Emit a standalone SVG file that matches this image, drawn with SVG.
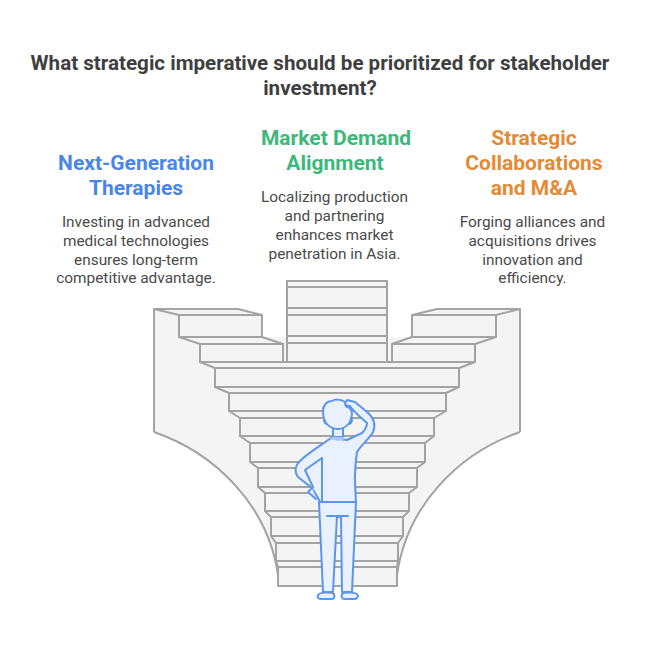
<svg xmlns="http://www.w3.org/2000/svg" width="650" height="651" viewBox="0 0 650 651">
<style>
text{font-family:Roboto,"Liberation Sans",sans-serif;text-anchor:middle}
.t{font-size:20.6px;font-weight:700;fill:#3f3f3f}
.h{font-size:21px;font-weight:700}
.b{font-size:15.4px;fill:#4a4a4a}
.s{fill:#f4f4f4;stroke:#a3a3a3;stroke-width:2;stroke-linejoin:round}
.p{fill:#e9f1fe;stroke:#5b95ec;stroke-width:2;stroke-linejoin:round;stroke-linecap:round}
</style>
<rect width="650" height="651" fill="#fff"/>
<text class="t" x="320" y="70">What strategic imperative should be prioritized for stakeholder</text>
<text class="t" x="320" y="95">investment?</text>
<g id="node-therapies">
<text class="h" x="136" y="170" fill="#4a86e8">Next-Generation</text>
<text class="h" x="136" y="195" fill="#4a86e8">Therapies</text>
<text class="b" x="136" y="227">Investing in advanced</text>
<text class="b" x="136" y="246">medical technologies</text>
<text class="b" x="136" y="265">ensures long-term</text>
<text class="b" x="136" y="283">competitive advantage.</text>
</g>
<g id="node-market">
<text class="h" x="336" y="145" fill="#3cb87a">Market Demand</text>
<text class="h" x="335" y="170" fill="#3cb87a">Alignment</text>
<text class="b" x="334.500" y="202">Localizing production</text>
<text class="b" x="334.500" y="221">and partnering</text>
<text class="b" x="334.500" y="240">enhances market</text>
<text class="b" x="334.500" y="259">penetration in Asia.</text>
</g>
<g id="node-collab">
<text class="h" x="534" y="145" fill="#e38a37">Strategic</text>
<text class="h" x="534" y="170" fill="#e38a37">Collaborations</text>
<text class="h" x="534" y="195" fill="#e38a37">and M&amp;A</text>
<text class="b" x="532.500" y="227">Forging alliances and</text>
<text class="b" x="532.500" y="246">acquisitions drives</text>
<text class="b" x="532.500" y="265">innovation and</text>
<text class="b" x="532.500" y="283">efficiency.</text>
</g>
<g id="stairs">
<path class="s" d="M154 309V432C215 453 268 505 278 575H397C407 505 459 453 520 432V309H437L412 315V337H262V315L238 309Z" style="stroke:none"/>
<path class="s" style="fill:none" d="M154 432V309L179 315M154 309H238L262 315M520 432V309L496 315M520 309H437L412 315"/>
<path class="s" style="fill:none" d="M154 432C215 453 268 505 278 575M520 432C459 453 407 505 397 575"/>
<g id="center-stack">
<rect class="s" x="287" y="281" width="100" height="81"/>
<path class="s" style="fill:none" d="M287 287H387M287 308H387M287 315H387M287 336H387M287 343H387"/>
</g>
<rect class="s" x="179" y="315" width="83" height="22"/>
<path class="s" d="M179 337H262L283 344H200Z"/>
<rect class="s" x="200" y="344" width="83" height="18"/>
<rect class="s" x="412" y="315" width="84" height="22"/>
<path class="s" d="M496 337H412L392 344H475Z"/>
<rect class="s" x="392" y="344" width="83" height="18"/>
<path class="s" d="M200 362H475L459 368H215Z"/><rect class="s" x="215" y="368" width="244" height="19"/>
<path class="s" d="M215 387H459L446 393H229Z"/><rect class="s" x="229" y="393" width="217" height="18"/>
<path class="s" d="M229 411H446L434 418H240Z"/><rect class="s" x="240" y="418" width="194" height="18"/>
<path class="s" d="M240 436H434L425 443H250Z"/><rect class="s" x="250" y="443" width="175" height="19"/>
<path class="s" d="M250 462H425L417 468H258Z"/><rect class="s" x="258" y="468" width="159" height="19"/>
<path class="s" d="M258 487H417L409 493H265Z"/><rect class="s" x="265" y="493" width="144" height="18"/>
<path class="s" d="M265 511H409L403 517H271Z"/><rect class="s" x="271" y="517" width="132" height="19"/>
<path class="s" d="M271 536H403L398 543H276Z"/><rect class="s" x="276" y="543" width="122" height="18"/>
<path class="s" d="M276 561H398L397 567H278Z"/><rect class="s" x="278" y="567" width="119" height="19"/>
</g>
<g id="person">
<path class="p" d="M319 502L323 592H333L337 516H341L342 592H352L356 502Z"/>
<path class="p" d="M327 516H348"/>
<path class="p" d="M318 595C320 592 332 592 334 594C335 597 334 599 332 599H321C318 599 317 597 318 595ZM342 594C344 592 356 592 358 595C358 598 356 599 354 599H344C342 599 341 596 342 594Z"/>
<path class="p" d="M331 438C320 446 305 455 298 463C294 469 295 473 298 477L312 488L318 498L320 502H356C355 485 354 470 357 452C362 444 370 438 373 432C376 425 374 418 367 412L355 402L347 400L345 403C345 405 348 406 350 406C352 409 355 412 358 415L367 423C367 427 365 430 362 433L347 440Z"/>
<path class="p" d="M322 458L305 470L313 487M322 458V502M312 488L308 492L316 499"/>
<path class="p" d="M333 428V437H343V428"/>
<path d="M332 437H344L346 439L338 441L330 439Z" fill="#a9c8f6"/>
<path class="p" d="M325 417C323 420 324 423 327 424M351 417C353 420 352 423 349 424"/>
<path class="p" d="M345 402C341 399 335 399 332 401C327 401 323 405 323 411C323 420 327 428 337 429C346 429 351 423 352 414C352 411 350 408 348 407C346 407 345 405 345 402Z"/>
</g>
</svg>
